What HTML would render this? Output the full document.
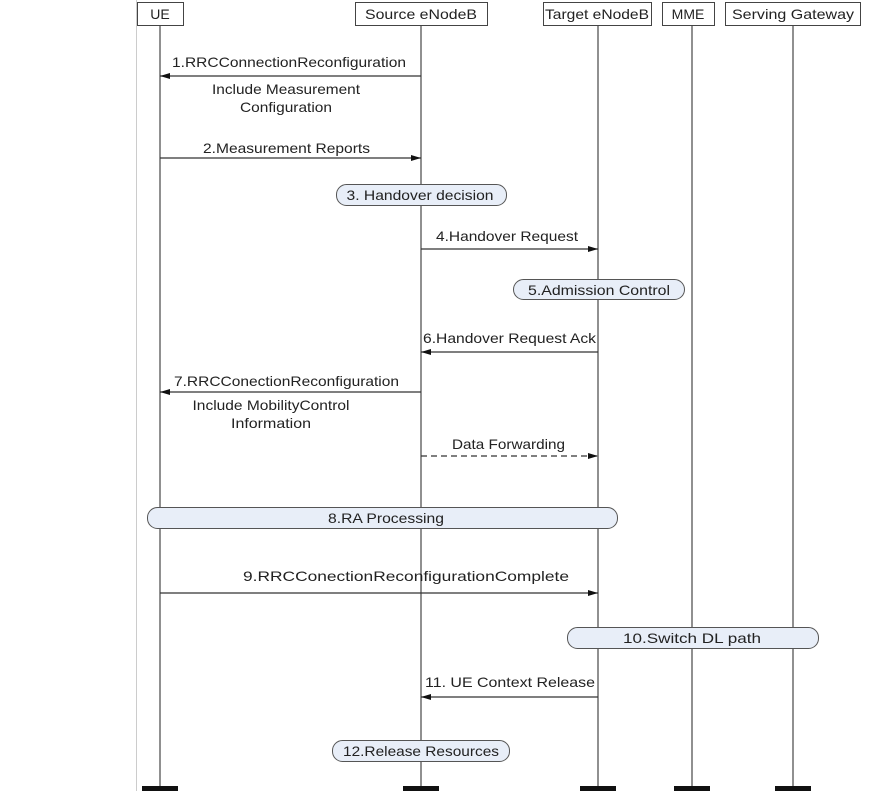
<!DOCTYPE html>
<html><head><meta charset="utf-8"><style>
html,body{margin:0;padding:0;background:#fff;}
svg{display:block;}
text{font-family:"Liberation Sans",Arial,sans-serif;font-size:14px;fill:#222;}
</style></head><body>
<svg width="893" height="791" viewBox="0 0 893 791" xmlns="http://www.w3.org/2000/svg">
<defs>
<marker id="ah" markerWidth="10" markerHeight="6" refX="10" refY="3" orient="auto" markerUnits="userSpaceOnUse">
<path d="M0,0 L10,3 L0,6 z" fill="#111"/></marker>
</defs>
<line x1="136.5" y1="0" x2="136.5" y2="791" stroke="#ccc" stroke-width="1"/>
<g stroke="#555" stroke-width="1.3">
<line x1="160" y1="25" x2="160" y2="788"/>
<line x1="421" y1="25" x2="421" y2="788"/>
<line x1="598" y1="25" x2="598" y2="788"/>
<line x1="692" y1="25" x2="692" y2="788"/>
<line x1="793" y1="25" x2="793" y2="788"/>
</g>
<g fill="#111">
<rect x="142" y="786" width="36" height="5"/>
<rect x="403" y="786" width="36" height="5"/>
<rect x="580" y="786" width="36" height="5"/>
<rect x="674" y="786" width="36" height="5"/>
<rect x="775" y="786" width="36" height="5"/>
</g>
<g fill="#fff" stroke="#444" stroke-width="1">
<rect x="137.5" y="2.5" width="46" height="23"/>
<rect x="355.5" y="2.5" width="132" height="23"/>
<rect x="543.5" y="2.5" width="108" height="23"/>
<rect x="662.5" y="2.5" width="52" height="23"/>
<rect x="725.5" y="2.5" width="135" height="23"/>
</g>
<g text-anchor="middle">
<text x="160" y="19">UE</text>
<text x="421" y="19" textLength="112" lengthAdjust="spacingAndGlyphs">Source eNodeB</text>
<text x="597" y="19" textLength="104" lengthAdjust="spacingAndGlyphs">Target eNodeB</text>
<text x="688" y="19">MME</text>
<text x="793" y="19" textLength="122" lengthAdjust="spacingAndGlyphs">Serving Gateway</text>
</g>
<g stroke="#333" stroke-width="1.2" fill="none">
<line x1="421" y1="76" x2="160" y2="76" marker-end="url(#ah)"/>
<line x1="160" y1="158" x2="421" y2="158" marker-end="url(#ah)"/>
<line x1="421" y1="249" x2="598" y2="249" marker-end="url(#ah)"/>
<line x1="598" y1="352" x2="421" y2="352" marker-end="url(#ah)"/>
<line x1="421" y1="392" x2="160" y2="392" marker-end="url(#ah)"/>
<line x1="421" y1="456" x2="598" y2="456" stroke-dasharray="6,4" marker-end="url(#ah)"/>
<line x1="160" y1="593" x2="598" y2="593" marker-end="url(#ah)"/>
<line x1="598" y1="697" x2="421" y2="697" marker-end="url(#ah)"/>
</g>
<g fill="#e8eef8" stroke="#555" stroke-width="1">
<rect x="336.5" y="184.5" width="170" height="21" rx="10"/>
<rect x="513.5" y="279.5" width="171" height="20" rx="10"/>
<rect x="147.5" y="507.5" width="470" height="21" rx="10"/>
<rect x="567.5" y="627.5" width="251" height="21" rx="10"/>
<rect x="332.5" y="740.5" width="177" height="21" rx="10"/>
</g>
<g text-anchor="middle">
<text x="420" y="200" textLength="147" lengthAdjust="spacingAndGlyphs">3. Handover decision</text>
<text x="599" y="295" textLength="142" lengthAdjust="spacingAndGlyphs">5.Admission Control</text>
<text x="386" y="523" textLength="116" lengthAdjust="spacingAndGlyphs">8.RA Processing</text>
<text x="692" y="643" textLength="138" lengthAdjust="spacingAndGlyphs">10.Switch DL path</text>
<text x="421" y="756" textLength="156" lengthAdjust="spacingAndGlyphs">12.Release Resources</text>
</g>
<text x="172" y="67" textLength="234" lengthAdjust="spacingAndGlyphs">1.RRCConnectionReconfiguration</text>
<text x="286" y="94" text-anchor="middle" textLength="148" lengthAdjust="spacingAndGlyphs">Include Measurement</text>
<text x="286" y="112" text-anchor="middle" textLength="92" lengthAdjust="spacingAndGlyphs">Configuration</text>
<text x="203" y="153" textLength="167" lengthAdjust="spacingAndGlyphs">2.Measurement Reports</text>
<text x="436" y="241" textLength="142" lengthAdjust="spacingAndGlyphs">4.Handover Request</text>
<text x="423" y="343" textLength="173" lengthAdjust="spacingAndGlyphs">6.Handover Request Ack</text>
<text x="174" y="386" textLength="225" lengthAdjust="spacingAndGlyphs">7.RRCConectionReconfiguration</text>
<text x="271" y="410" text-anchor="middle" textLength="157" lengthAdjust="spacingAndGlyphs">Include MobilityControl</text>
<text x="271" y="428" text-anchor="middle" textLength="80" lengthAdjust="spacingAndGlyphs">Information</text>
<text x="452" y="449" textLength="113" lengthAdjust="spacingAndGlyphs">Data Forwarding</text>
<text x="243" y="581" textLength="326" lengthAdjust="spacingAndGlyphs">9.RRCConectionReconfigurationComplete</text>
<text x="425" y="687" textLength="170" lengthAdjust="spacingAndGlyphs">11.  UE Context Release</text>
</svg>
</body></html>
